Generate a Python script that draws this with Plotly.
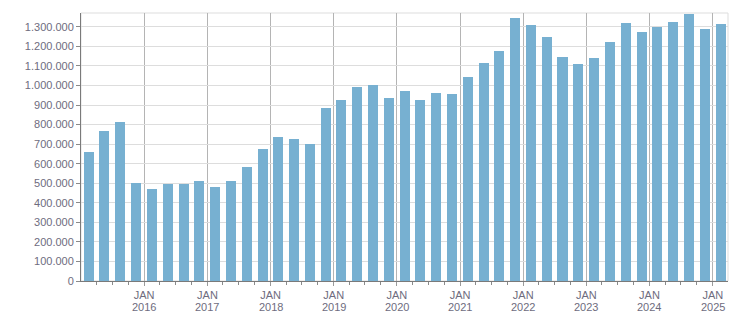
import plotly.graph_objects as go

# Quarterly values (quarter start dates), Q1 2015 .. Q1 2025
quarters = [f"{y}-{m:02d}-01" for y in range(2015, 2026) for m in (1, 4, 7, 10)][:41]
values = [
    661000, 768000, 815000, 502000,
    471000, 497000, 498000, 512000,
    482000, 512000, 584000, 676000,
    738000, 727000, 702000, 886000,
    927000, 994000, 1004000, 937000,
    973000, 927000, 963000, 958000,
    1045000, 1117000, 1178000, 1347000,
    1311000, 1250000, 1148000, 1112000,
    1142000, 1224000, 1322000, 1276000,
    1301000, 1327000, 1368000, 1291000,
    1317000,
]
tick_dates = [f"{y}-01-01" for y in range(2016, 2026)]
tick_months = ["JAN"] * len(tick_dates)
tick_years = [str(y) for y in range(2016, 2026)]
minor_dates = [f"{y}-{m:02d}-01" for y in range(2015, 2026) for m in (4, 7, 10)]

TEXT = "#6e6c7e"
FONT = "Liberation Sans"
DAY_MS = 86400000

fig = go.Figure()
fig.add_trace(go.Bar(
    x=quarters, y=values,
    xperiod="M3", xperiodalignment="middle",
    width=58 * DAY_MS,
    marker=dict(color="#77b0d1", line=dict(width=0)),
    hoverinfo="x+y",
))

annotations = [
    dict(x=d, y=0, xref="x", yref="paper", text=t, showarrow=False,
         xanchor="center", yanchor="middle", yshift=-25.5,
         font=dict(family=FONT, size=11, color=TEXT))
    for d, t in zip(tick_dates, tick_years)
]

fig.update_layout(
    width=751, height=313,
    margin=dict(l=81, r=23, t=13, b=32),
    plot_bgcolor="white", paper_bgcolor="white",
    separators=",.",
    showlegend=False,
    font=dict(family=FONT, size=11, color=TEXT),
    shapes=[dict(type="rect", xref="paper", yref="paper", x0=0, x1=1, y0=0, y1=1,
                 line=dict(color="#dddddd", width=1), layer="below")],
    annotations=annotations,
    bargap=0,
)
fig.update_xaxes(
    type="date", automargin=False,
    range=["2015-01-01", "2025-03-30"],
    tickmode="array", tickvals=tick_dates, ticktext=tick_months,
    showgrid=True, gridcolor="#b4b4b4", gridwidth=1,
    showline=True, linecolor="#7a7a7a", linewidth=1,
    ticks="outside", ticklen=4, tickcolor="#9a9a9a",
    tickfont=dict(family=FONT, size=11, color=TEXT),
    minor=dict(tickmode="array", tickvals=minor_dates, ticks="outside",
               ticklen=3, tickcolor="#8a8a8a", showgrid=False),
    zeroline=False,
)
fig.update_yaxes(
    automargin=False,
    range=[0, 1371000],
    tick0=0, dtick=100000, tickformat=",d",
    showgrid=True, gridcolor="#dddddd", gridwidth=1,
    showline=True, linecolor="#7a7a7a", linewidth=1,
    ticks="outside", ticklen=4, tickcolor="#8a8a8a",
    tickfont=dict(family=FONT, size=11, color=TEXT),
    zeroline=False,
)

fig.write_html("out.html")
